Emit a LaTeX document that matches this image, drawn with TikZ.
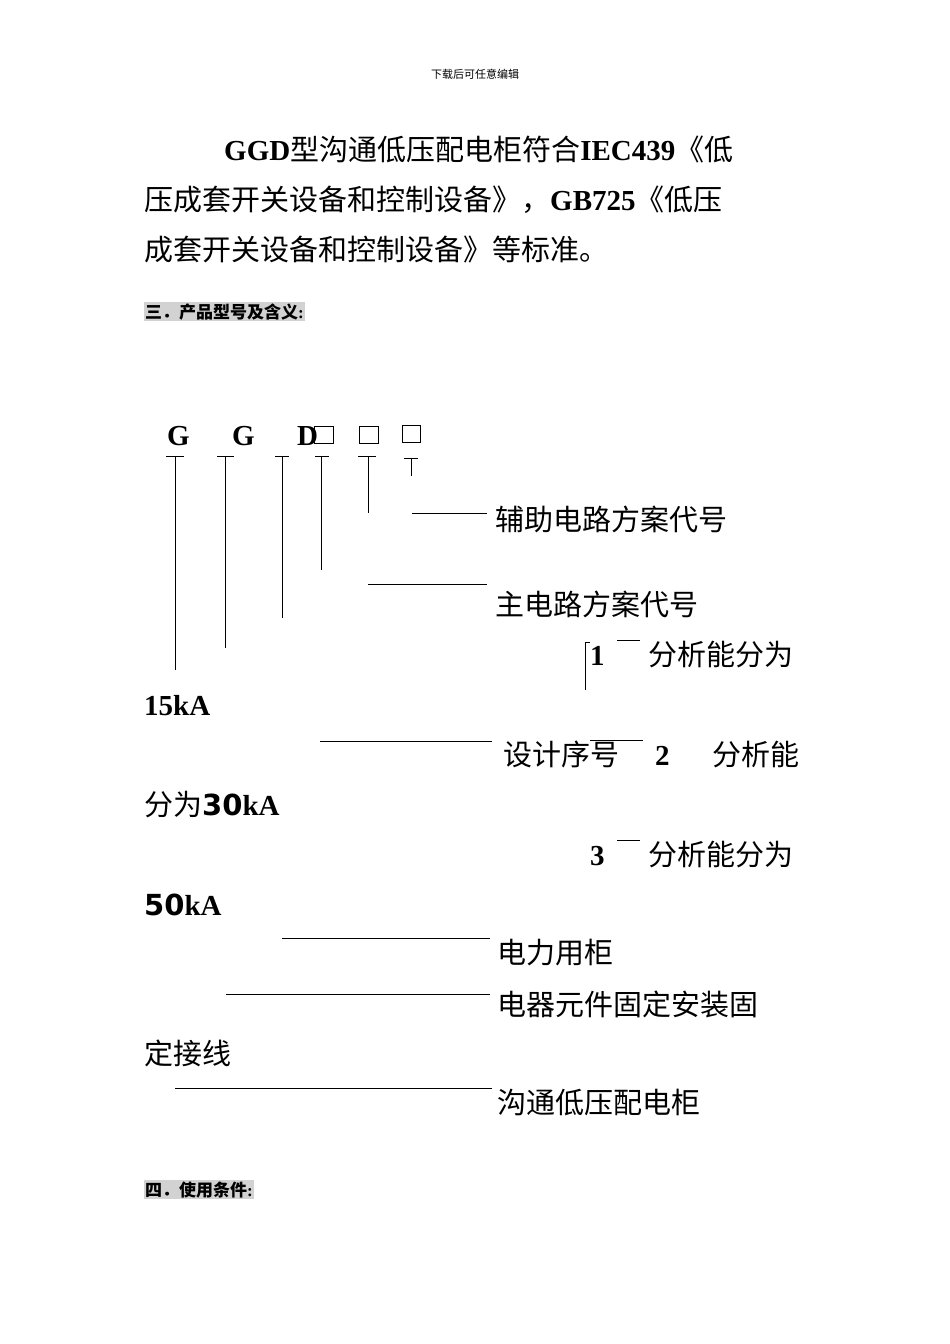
\documentclass[tikz,border=0pt]{standalone}
\usepackage{fontspec}
\setmainfont{Liberation Serif}
\newfontfamily\cjk{Noto Sans CJK SC}
\newfontfamily\dv{DejaVu Sans}
\begin{document}
\begin{tikzpicture}[x=1pt,y=-1pt,
  t/.style={anchor=base west,inner sep=0pt,font=\fontsize{29}{30}\selectfont},
  sec/.style={anchor=base west,inner sep=1pt,fill=gray!35,font=\fontsize{17}{18}\selectfont\bfseries\cjk},
  ln/.style={line width=0.8pt}]
\useasboundingbox (0,0) rectangle (950,1344);
\newcommand\C[1]{{\cjk #1}}
\node[anchor=base,inner sep=0pt,font=\fontsize{11}{12}\selectfont\cjk] (hd) at (475,78) {下载后可任意编辑};
\node[t] (l1) at (224,160) {\textbf{GGD}\C{型沟通低压配电柜符合}\textbf{IEC439}\C{《低}};
\node[t] (l2) at (144,210) {\C{压成套开关设备和控制设备》，}\textbf{GB725}\C{《低压}};
\node[t] (l3) at (144,260) {\C{成套开关设备和控制设备》等标准。}};
\node[sec] (s3) at (144,318) {三．产品型号及含义\textrm{:}};
% code letters
\node[t,font=\fontsize{29}{30}\selectfont\bfseries] (g1) at (167,445) {G};
\node[t,font=\fontsize{29}{30}\selectfont\bfseries] (g2) at (232,445) {G};
\node[t,font=\fontsize{29}{30}\selectfont\bfseries] (d) at (297,445) {D};
\draw[line width=0.7pt] (314,426) rectangle (333,443) (359,426) rectangle (378,443) (402,425) rectangle (420,442);
% ticks
\draw[ln] (166,456)--(184,456) (217,456)--(234,456) (275,456)--(289,456) (315,456)--(329,456) (358,456)--(376,456) (404,458)--(418,458);
\draw[ln] (175,456)--(175,670) (225,456)--(225,648) (282,456)--(282,618) (321,456)--(321,570) (368,456)--(368,513) (411,458)--(411,476);
% labels
\draw[ln] (412,513)--(487,513);
\node[t] (a1) at (495,530) {\C{辅助电路方案代号}};
\draw[ln] (368,584)--(487,584);
\node[t] (a2) at (495,615) {\C{主电路方案代号}};
\draw[ln] (585,690)--(585,642)--(590,642);
\node[t,font=\fontsize{29}{30}\selectfont\bfseries] (n1) at (590,665) {1};
\draw[ln] (617,640)--(640,640);
\node[t] (f1) at (648,665) {\C{分析能分为}};
\node[t,font=\fontsize{29}{30}\selectfont\bfseries] (k1) at (144,715) {15kA};
\draw[ln] (320,741)--(492,741) (590,740)--(643,740);
\node[t] (a3) at (503,765) {\C{设计序号}};
\node[t,font=\fontsize{29}{30}\selectfont\bfseries] (n2) at (655,765) {2};
\node[t] (f2) at (712,765) {\C{分析能}};
\node[t] (k2) at (144,815) {\C{分为}{\dv\bfseries 30}\textbf{kA}};
\node[t,font=\fontsize{29}{30}\selectfont\bfseries] (n3) at (590,865) {3};
\draw[ln] (617,840)--(640,840);
\node[t] (f3) at (648,865) {\C{分析能分为}};
\node[t] (k3) at (144,915) {{\dv\bfseries 50}\textbf{kA}};
\draw[ln] (282,938)--(490,938);
\node[t] (a4) at (497,963) {\C{电力用柜}};
\draw[ln] (226,994)--(490,994);
\node[t] (a5) at (497,1015) {\C{电器元件固定安装固}};
\node[t] (a5b) at (144,1064) {\C{定接线}};
\draw[ln] (175,1088)--(492,1088);
\node[t] (a6) at (497,1113) {\C{沟通低压配电柜}};
\node[sec] (s4) at (144,1196) {四．使用条件\textrm{:}};
\end{tikzpicture}
\end{document}
